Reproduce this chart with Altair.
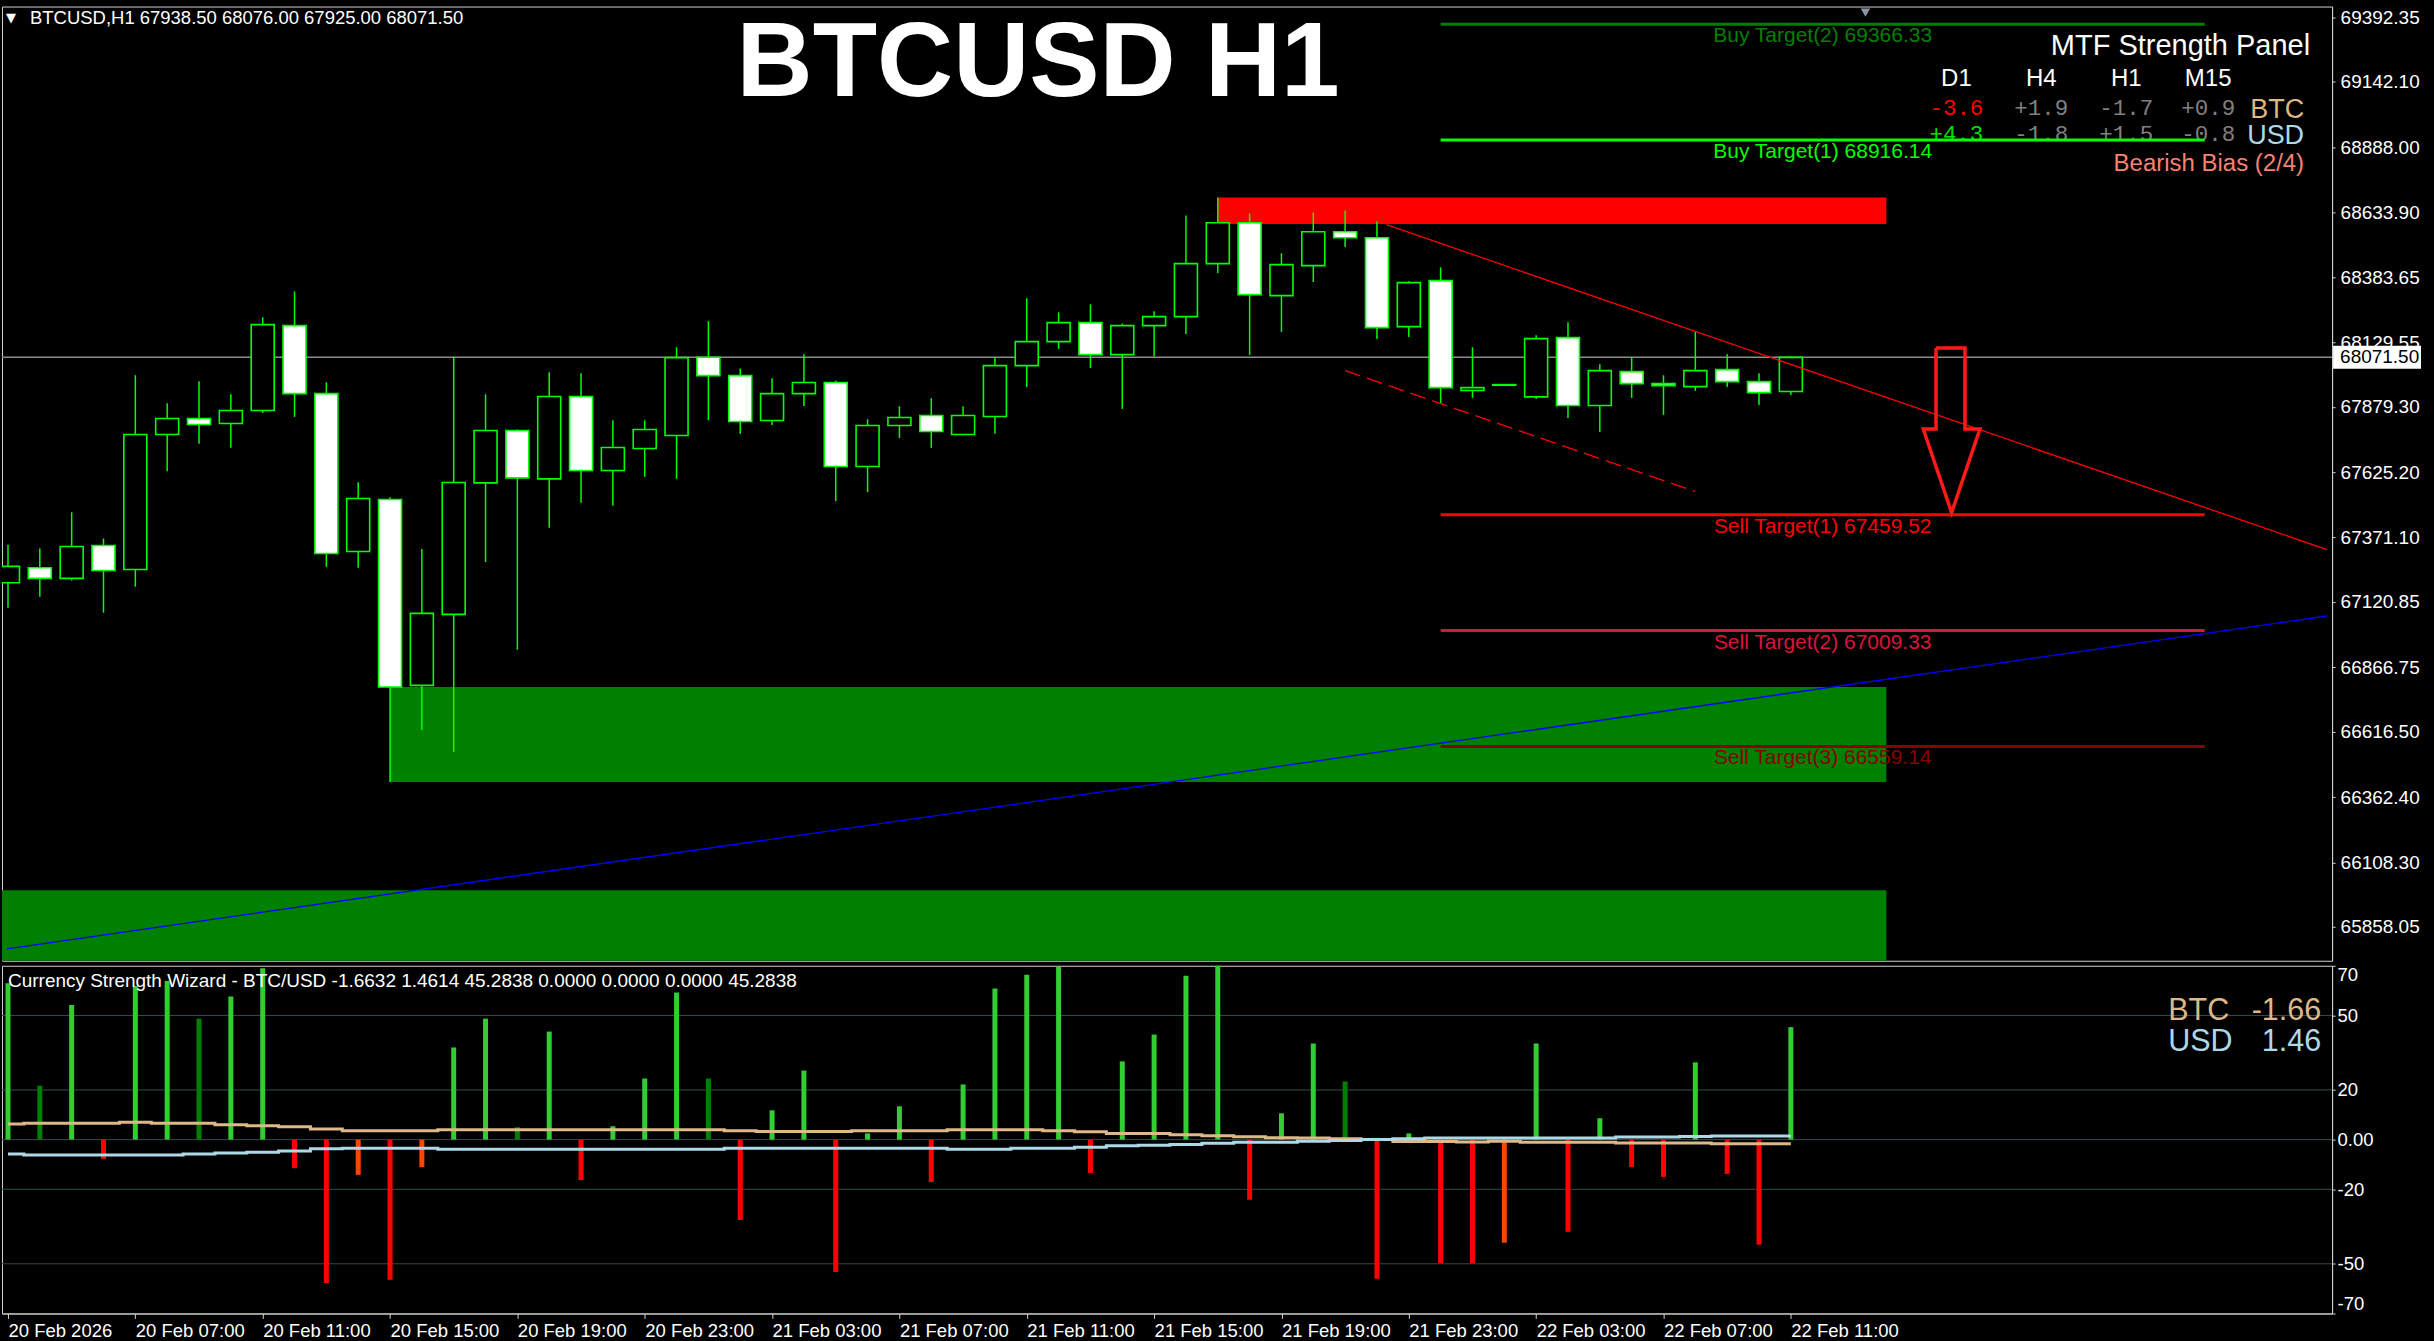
import altair as alt
import pandas as pd

FONT = "Liberation Sans"
MONO = "Liberation Mono"
GREEN = "#00FF00"
FRAME = "#d0d0d0"

# ---------------- H1 candles, 20 Feb 03:00 .. 22 Feb 11:00 ----------------
bar_index = list(range(57))
opens = [67195.2, 67253.5, 67212.1, 67340.2, 67247.0, 67771.4, 67833.7, 67814.1, 67864.6, 68194.7,
         67930.6, 67316.9, 67518.9, 66796.5, 67072.2, 67583.6, 67786.9, 67599.2, 67919.0, 67631.6,
         67717.0, 67767.5, 68071.8, 68000.5, 67825.8, 67930.6, 67973.4, 67647.1, 67806.3, 67845.2,
         67771.4, 67841.3, 68039.4, 68132.6, 68206.4, 68082.1, 68194.7, 68229.7, 68435.6, 68594.8,
         68311.3, 68427.8, 68559.8, 68536.5, 68190.9, 68369.5, 67942.3, 67963.0, 67917.7, 68148.1,
         67884.0, 68016.1, 67969.4, 67957.8, 68023.8, 67977.2, 67938.5]
highs = [67341.6, 67328.6, 67469.7, 67367.4, 68001.8, 67893.2, 67978.5, 67928.0, 68227.1, 68328.0,
         67974.6, 67586.2, 67528.0, 67326.0, 68074.0, 67928.0, 67790.8, 68013.5, 68009.6, 67827.1,
         67827.1, 68110.6, 68211.6, 68027.7, 67990.2, 68083.4, 67981.1, 67830.9, 67881.4, 67912.5,
         67881.4, 68073.0, 68300.9, 68246.5, 68277.6, 68202.5, 68250.4, 68623.3, 68693.2, 68631.0,
         68475.7, 68634.9, 68642.7, 68600.0, 68367.0, 68421.3, 68110.6, 67966.0, 68157.2, 68207.7,
         68044.6, 68073.0, 68001.8, 68170.1, 68083.4, 68009.6, 68076.0]
lows = [67098.1, 67140.9, 67204.3, 67078.7, 67179.7, 67629.0, 67735.1, 67719.6, 67855.5, 67840.0,
        67257.4, 67253.5, 66421.0, 66623.0, 66537.6, 67275.5, 66935.0, 67408.9, 67506.0, 67494.3,
        67607.0, 67599.2, 67827.0, 67774.0, 67808.9, 67882.7, 67512.4, 67547.4, 67758.4, 67719.6,
        67771.4, 67774.0, 67956.5, 68104.1, 68030.3, 67871.1, 68074.3, 68162.4, 68399.3, 68080.8,
        68170.1, 68364.4, 68500.3, 68142.9, 68150.7, 67890.5, 67913.8, 67962.5, 67909.9, 67836.1,
        67781.7, 67913.8, 67847.8, 67941.0, 67956.5, 67886.6, 67925.0]
closes = [67258.9, 67212.1, 67336.4, 67243.1, 67771.4, 67833.7, 67810.2, 67864.6, 68198.6, 67930.6,
          67309.1, 67522.8, 66790.0, 67076.1, 67584.9, 67786.9, 67603.1, 67919.0, 67631.6, 67720.9,
          67790.8, 68070.4, 68000.5, 67821.9, 67930.6, 67973.4, 67647.1, 67806.3, 67837.4, 67783.0,
          67845.2, 68039.4, 68132.6, 68206.4, 68082.1, 68194.7, 68229.7, 68435.6, 68594.8, 68315.2,
          68431.7, 68559.8, 68536.5, 68187.0, 68361.8, 67953.9, 67953.9, 67965.5, 68144.2, 67884.0,
          68019.9, 67969.4, 67961.7, 68019.9, 67977.2, 67934.5, 68071.5]

# time axis: one label every 4 bars
tick_bars = list(range(0, 57, 4))
tick_labels = ["20 Feb 2026", "20 Feb 07:00", "20 Feb 11:00", "20 Feb 15:00", "20 Feb 19:00",
               "20 Feb 23:00", "21 Feb 03:00", "21 Feb 07:00", "21 Feb 11:00", "21 Feb 15:00",
               "21 Feb 19:00", "21 Feb 23:00", "22 Feb 03:00", "22 Feb 07:00", "22 Feb 11:00"]

price_ticks = [69392.35, 69142.10, 68888.00, 68633.90, 68383.65, 68129.55, 67879.30, 67625.20,
               67371.10, 67120.85, 66866.75, 66616.50, 66362.40, 66108.30, 65858.05]
last_price = 68071.50

# supply / demand zones
zone_start = [38.0, 12.0, -2.0]
zone_end = [59.0, 59.0, 59.0]
zone_low = [68589.5, 66421.0, 65600.0]
zone_high = [68693.2, 66790.0, 65999.6]
zone_color = ["#FF0000", "#008000", "#008000"]

# trend lines
support_bars = [-0.03, 72.84]
support_prices = [65772.0, 67066.0]
resist_bars = [43.3, 72.84]
resist_prices = [68587.0, 67324.0]
channel_bars = [42.0, 53.0]
channel_prices = [68020.0, 67550.0]

# projected targets
target_names = ["Buy Target(2)", "Buy Target(1)", "Sell Target(1)", "Sell Target(2)", "Sell Target(3)"]
target_prices = [69366.33, 68916.14, 67459.52, 67009.33, 66559.14]
target_colors = ["#008000", "#00FF00", "#FF0000", "#DC143C", "#8B0000"]
target_from, target_to, target_label_bar = 45.0, 69.0, 57.0

# bearish projection arrow (outline)
arrow_bars = [60.56, 61.47, 61.47, 61.94, 61.05, 60.16, 60.56, 60.56]
arrow_prices = [68108.0, 68108.0, 67793.0, 67793.0, 67468.0, 67793.0, 67793.0, 68108.0]

# multi-timeframe strength panel
mtf_frames = ["D1", "H4", "H1", "M15"]
mtf_btc = [-3.6, 1.9, -1.7, 0.9]
mtf_usd = [4.3, -1.8, 1.5, -0.8]
bias_text = "Bearish Bias (2/4)"

# ---------------- Currency Strength Wizard ----------------
hist = [63.0, 21.7, 54.2, -7.8, 61.8, 63.9, 48.7, 57.6, 69.0, -11.5,
        -57.7, -14.2, -56.4, -11.1, 37.1, 48.7, 5.0, 43.5, -16.3, 5.4,
        24.6, 59.2, 24.6, -32.4, 11.8, 27.8, -53.3, 2.5, 13.4, -17.1,
        22.2, 60.8, 66.4, 69.6, -13.4, 31.5, 42.3, 66.0, 72.0, -24.2,
        10.6, 38.7, 23.4, -56.0, 2.5, -49.9, -49.9, -41.5, 38.7, -37.1,
        8.6, -11.0, -15.0, 31.1, -13.8, -42.3, 45.2838]
hist_shade = ["L", "D", "L", "R", "L", "L", "D", "L", "L", "R",
              "R", "O", "R", "O", "L", "L", "D", "L", "R", "L",
              "L", "L", "D", "R", "L", "L", "R", "L", "L", "R",
              "L", "L", "L", "L", "R", "L", "L", "L", "L", "R",
              "L", "L", "D", "R", "L", "R", "R", "O", "L", "R",
              "L", "R", "R", "L", "R", "R", "L"]
btc_line = [6.3, 6.6, 6.6, 6.6, 7.0, 6.6, 6.6, 6.0, 5.6, 5.2,
            4.3, 3.6, 3.6, 3.6, 4.0, 4.0, 4.0, 4.0, 4.0, 4.0,
            4.0, 4.0, 4.0, 3.6, 3.3, 3.3, 3.3, 3.6, 3.6, 3.6,
            4.0, 4.0, 4.0, 3.6, 3.2, 2.5, 2.5, 2.0, 1.6, 1.2,
            0.8, 0.7, 0.3, 0.0, -0.8, -0.8, -1.0, -0.7, -1.1, -1.1,
            -1.1, -1.4, -1.4, -1.4, -1.66, -1.66, -1.6632]
usd_line = [-5.8, -6.2, -6.2, -6.2, -6.2, -6.2, -5.8, -5.4, -5.1, -4.6,
            -3.7, -3.5, -3.5, -3.5, -3.9, -3.9, -3.9, -3.9, -3.9, -3.9,
            -3.9, -3.9, -3.9, -3.5, -3.5, -3.5, -3.5, -3.5, -3.5, -3.5,
            -3.9, -3.9, -3.5, -3.5, -3.1, -2.5, -2.3, -2.0, -1.5, -1.1,
            -1.1, -0.7, -0.4, 0.0, 0.3, 0.7, 0.7, 0.7, 0.7, 0.7,
            0.7, 1.1, 1.1, 1.3, 1.46, 1.46, 1.4614]
ind_ticks = [70, 50, 20, 0, -20, -50, -70]
ind_grid = [50, 20, 0, -20, -50]

# ---------------- layout ----------------
W = 2332          # plot width (bar i sits at pixel 1 + 32*i)
H_MAIN = 955
H_IND = 348
TAG_W = 88        # width of the last-price tag on the price scale
TAG_H = 23
SHADES = {"L": "#32CD32", "D": "#008000", "R": "#FF0000", "O": "#FF4500"}
BTC_COLOR = "#DEB887"
USD_COLOR = "#ADD8E6"

x_scale = alt.Scale(domain=[-1 / 32, (W - 1) / 32], nice=False, zero=False)
price_scale = alt.Scale(domain=[65725.85, 69435.07], nice=False, zero=False)
ind_scale = alt.Scale(domain=[-70, 70], nice=False, zero=False)

price_axis = alt.Axis(orient="right", values=price_ticks, format=".2f", title=None, grid=False,
                      labelColor="white", labelFont=FONT, labelFontSize=19, labelPadding=5,
                      tickColor=FRAME, tickSize=3, domainColor=FRAME, labelOverlap=False)
ind_axis = alt.Axis(orient="right", values=ind_ticks, title=None, grid=False,
                    labelExpr="datum.value == 0 ? '0.00' : datum.value",
                    labelColor="white", labelFont=FONT, labelFontSize=18.5, labelPadding=2,
                    labelFlush=True, tickColor=FRAME, tickSize=3, domainColor=FRAME,
                    labelOverlap=False)
time_expr = "[" + ",".join("'" + s + "'" for s in tick_labels) + "][round(datum.value / 4)]"
time_axis = alt.Axis(values=tick_bars, labelExpr=time_expr, title=None, grid=False,
                     labelAlign="left", labelFlush=False, labelOverlap=False,
                     labelColor="white", labelFont=FONT, labelFontSize=18.5, labelPadding=3,
                     tickColor=FRAME, tickSize=5, domainColor=FRAME)

XM = alt.X("bar:Q", scale=x_scale, axis=None)
XI = alt.X("bar:Q", scale=x_scale, axis=time_axis)


def YP(field):
    return alt.Y(field, type="quantitative", scale=price_scale, axis=price_axis)


def YI(field):
    return alt.Y(field, type="quantitative", scale=ind_scale, axis=ind_axis)


def label(text, x, y, size, color, align="left", font=FONT, weight="normal"):
    return alt.Chart(pd.DataFrame({"t": [text]})).mark_text(
        align=align, baseline="middle", fontSize=size, font=font, fontWeight=weight, color=color
    ).encode(x=alt.value(x), y=alt.value(y), text="t:N")


# ---------------- price pane ----------------
candles = pd.DataFrame({"bar": bar_index, "open": opens, "high": highs, "low": lows, "close": closes})
candles["body"] = ["black" if c >= o else "white" for o, c in zip(opens, closes)]

zones = pd.DataFrame({"x0": zone_start, "x1": zone_end, "lo": zone_low, "hi": zone_high, "c": zone_color})
zone_layer = alt.Chart(zones).mark_rect(clip=True).encode(
    x=alt.X("x0:Q", scale=x_scale, axis=None), x2="x1:Q", y=YP("lo"), y2="hi:Q",
    color=alt.Color("c:N", scale=None))

price_line = alt.Chart(pd.DataFrame({"p": [last_price]})).mark_rule(
    color="#8c8c8c", strokeWidth=1.5).encode(y=YP("p"))

support = alt.Chart(pd.DataFrame({"bar": support_bars, "price": support_prices})).mark_line(
    color="#0000FF", strokeWidth=1.3, clip=True).encode(x=XM, y=YP("price"))

wicks = alt.Chart(candles).mark_rule(color=GREEN, strokeWidth=1.5, clip=True).encode(
    x=XM, y=YP("low"), y2="high:Q")
bodies = alt.Chart(candles).mark_bar(size=23, stroke=GREEN, strokeWidth=1.6, clip=True).encode(
    x=XM, y=YP("open"), y2="close:Q", fill=alt.Fill("body:N", scale=None))

resist = alt.Chart(pd.DataFrame({"bar": resist_bars, "price": resist_prices})).mark_line(
    color="#FF0000", strokeWidth=1.3, clip=True).encode(x=XM, y=YP("price"))
channel = alt.Chart(pd.DataFrame({"bar": channel_bars, "price": channel_prices})).mark_line(
    color="#FF0000", strokeWidth=1.3, strokeDash=[16, 7], clip=True).encode(x=XM, y=YP("price"))

targets = pd.DataFrame({"name": target_names, "price": target_prices, "c": target_colors})
targets["x0"] = target_from
targets["x1"] = target_to
targets["xl"] = target_label_bar
targets["label"] = [f"{n} {p:.2f}" for n, p in zip(target_names, target_prices)]
target_lines = alt.Chart(targets).mark_rule(strokeWidth=3).encode(
    x=alt.X("x0:Q", scale=x_scale, axis=None), x2="x1:Q", y=YP("price"),
    color=alt.Color("c:N", scale=None))
target_text = alt.Chart(targets).mark_text(
    align="center", baseline="middle", dy=12, fontSize=21, font=FONT).encode(
    x=alt.X("xl:Q", scale=x_scale, axis=None), y=YP("price"), text="label:N",
    color=alt.Color("c:N", scale=None))

arrow = alt.Chart(pd.DataFrame({"bar": arrow_bars, "price": arrow_prices,
                                "k": list(range(len(arrow_bars)))})).mark_line(
    color="#FF1A1A", strokeWidth=3.5, strokeJoin="miter").encode(
    x=XM, y=YP("price"), order="k:Q")

price_tag = alt.Chart(pd.DataFrame({"p": [last_price]})).mark_rule(
    color="white", strokeWidth=TAG_H).encode(y=YP("p"), x=alt.value(W + 1), x2=alt.value(W + 1 + TAG_W))
price_tag_text = alt.Chart(pd.DataFrame({"p": [last_price], "t": [f"{last_price:.2f}"]})).mark_text(
    align="left", baseline="middle", fontSize=19, font=FONT, color="black").encode(
    y=YP("p"), x=alt.value(W + 8), text="t:N")

shift_mark = alt.Chart(pd.DataFrame({"t": ["shift"]})).mark_point(
    shape="triangle-down", filled=True, size=90, color="#8a96a6", opacity=1).encode(
    x=alt.value(1865), y=alt.value(6))

header = f"BTCUSD,H1  {opens[-1]:.2f} {highs[-1]:.2f} {lows[-1]:.2f} {closes[-1]:.2f}"
texts = [
    label("\u25BC", 9, 11, 13, "white", align="center", font="DejaVu Sans"),
    label(header, 28, 11, 18.5, "white"),
    label("BTCUSD H1", 1037, 58, 105.5, "white", align="center", weight="bold"),
    label("MTF Strength Panel", 2310, 39, 29, "white", align="right"),
]
col_x = [1956, 2041, 2126, 2208]
for fx, fr in zip(col_x, mtf_frames):
    texts.append(label(fr, fx, 73, 24, "white", align="center"))


def strength_color(v):
    if v <= -3:
        return "#FF0000"
    if v >= 3:
        return "#00E000"
    return "#808080"


for fx, v in zip(col_x, mtf_btc):
    texts.append(label(f"{v:+.1f}", fx, 102, 22.5, strength_color(v), align="center", font=MONO))
for fx, v in zip(col_x, mtf_usd):
    texts.append(label(f"{v:+.1f}", fx, 128, 22.5, strength_color(v), align="center", font=MONO))
texts.append(label("BTC", 2304, 104, 27, BTC_COLOR, align="right"))
texts.append(label("USD", 2304, 130, 27, USD_COLOR, align="right"))
texts.append(label(bias_text, 2304, 158, 24, "#FA8072", align="right"))

main = alt.layer(
    zone_layer, price_line, support, wicks, bodies, resist, channel,
    *texts, target_lines, target_text, arrow, price_tag, price_tag_text, shift_mark
).properties(width=W, height=H_MAIN)

# ---------------- strength pane ----------------
hist_df = pd.DataFrame({"bar": bar_index, "value": hist, "zero": 0.0,
                        "c": [SHADES[s] for s in hist_shade]})
lines_df = pd.concat([
    pd.DataFrame({"bar": bar_index, "value": btc_line, "series": "BTC", "c": BTC_COLOR}),
    pd.DataFrame({"bar": bar_index, "value": usd_line, "series": "USD", "c": USD_COLOR}),
])

grid = alt.Chart(pd.DataFrame({"lvl": ind_grid})).mark_rule(color="#2F4F4F", strokeWidth=1).encode(
    y=YI("lvl"))
hist_bars = alt.Chart(hist_df).mark_bar(size=5, clip=True).encode(
    x=XI, y=YI("value"), y2="zero:Q", color=alt.Color("c:N", scale=None))
strength_lines = alt.Chart(lines_df).mark_line(interpolate="step", strokeWidth=3, clip=True).encode(
    x=XI, y=YI("value"), color=alt.Color("c:N", scale=None), detail="series:N")

ind_header = ("Currency Strength Wizard - BTC/USD "
              f"{btc_line[-1]:.4f} {usd_line[-1]:.4f} {hist[-1]:.4f} "
              f"{0:.4f} {0:.4f} {0:.4f} {hist[-1]:.4f}")
ind_texts = [
    label(ind_header, 6, 15, 19, "white"),
    label("BTC", 2168, 45, 30.5, BTC_COLOR),
    label(f"{btc_line[-1]:.2f}", 2321, 45, 30.5, BTC_COLOR, align="right"),
    label("USD", 2168, 76, 30.5, USD_COLOR),
    label(f"{usd_line[-1]:.2f}", 2321, 76, 30.5, USD_COLOR, align="right"),
]

ind = alt.layer(grid, hist_bars, strength_lines, *ind_texts).properties(width=W, height=H_IND)

# the tag rule's bounds reach W + 1 + TAG_W + TAG_H / 2 on the right
chart = alt.vconcat(main, ind, spacing=3).properties(
    background="black",
    padding={"left": 0, "top": 5, "right": 1, "bottom": 3},
).configure_view(stroke=FRAME, strokeWidth=1)

chart.save("out.html", embed_options={"renderer": "svg", "actions": False})
